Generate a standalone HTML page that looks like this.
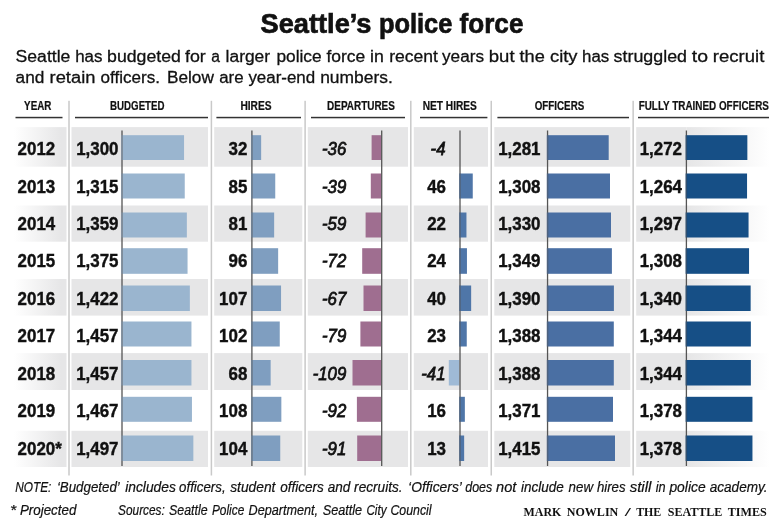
<!DOCTYPE html>
<html><head><meta charset="utf-8"><title>Seattle's police force</title>
<style>
html,body{margin:0;padding:0;background:#fff;}
body{width:780px;height:520px;overflow:hidden;font-family:"Liberation Sans",sans-serif;}
svg{display:block;will-change:transform;}
text{font-family:"Liberation Sans",sans-serif;fill:#111;}
.num{font-weight:bold;font-size:18px;stroke:#111;stroke-width:0.4px;}
.neg{font-style:italic;font-size:17.7px;stroke:#111;stroke-width:0.75px;}
.hd{font-weight:bold;font-size:12px;stroke:#111;stroke-width:0.2px;}
.note{font-style:italic;font-size:13.9px;stroke:#111;stroke-width:0.2px;}
.credit{font-family:"Liberation Serif",serif;font-weight:bold;font-size:11.6px;}
</style></head><body>
<svg width="780" height="520" viewBox="0 0 780 520">
<defs>
<linearGradient id="gl" x1="0" x2="1" y1="0" y2="0"><stop offset="0" stop-color="#fff"/><stop offset="0.9" stop-color="#e6e6e7"/><stop offset="1" stop-color="#e6e6e7"/></linearGradient>
<linearGradient id="gr" x1="0" x2="1" y1="0" y2="0"><stop offset="0" stop-color="#e6e6e7"/><stop offset="0.02" stop-color="#e6e6e7"/><stop offset="1" stop-color="#fff"/></linearGradient>
<linearGradient id="gs" x1="0" x2="0" y1="0" y2="1"><stop offset="0" stop-color="#fff"/><stop offset="0.04" stop-color="#c9c9c9"/><stop offset="1" stop-color="#c9c9c9"/></linearGradient>
</defs>
<rect width="780" height="520" fill="#fff"/>

<text x="260.6" y="33" font-size="27" font-weight="bold" stroke="#111" stroke-width="0.7" textLength="110.9" lengthAdjust="spacingAndGlyphs">Seattle’s</text>
<text x="378.9" y="33" font-size="27" font-weight="bold" stroke="#111" stroke-width="0.7" textLength="73.5" lengthAdjust="spacingAndGlyphs">police</text>
<text x="459.6" y="33" font-size="27" font-weight="bold" stroke="#111" stroke-width="0.7" textLength="63.8" lengthAdjust="spacingAndGlyphs">force</text>
<text x="15.6" y="62.3" font-size="17.3" stroke="#111" stroke-width="0.3" textLength="54.8" lengthAdjust="spacingAndGlyphs">Seattle</text>
<text x="75.2" y="62.3" font-size="17.3" stroke="#111" stroke-width="0.3" textLength="27.3" lengthAdjust="spacingAndGlyphs">has</text>
<text x="107.1" y="62.3" font-size="17.3" stroke="#111" stroke-width="0.3" textLength="73.8" lengthAdjust="spacingAndGlyphs">budgeted</text>
<text x="185.0" y="62.3" font-size="17.3" stroke="#111" stroke-width="0.3" textLength="20.8" lengthAdjust="spacingAndGlyphs">for</text>
<text x="211.2" y="62.3" font-size="17.3" stroke="#111" stroke-width="0.3" textLength="8.7" lengthAdjust="spacingAndGlyphs">a</text>
<text x="225.6" y="62.3" font-size="17.3" stroke="#111" stroke-width="0.3" textLength="44.5" lengthAdjust="spacingAndGlyphs">larger</text>
<text x="276.4" y="62.3" font-size="17.3" stroke="#111" stroke-width="0.3" textLength="45.2" lengthAdjust="spacingAndGlyphs">police</text>
<text x="326.4" y="62.3" font-size="17.3" stroke="#111" stroke-width="0.3" textLength="38.8" lengthAdjust="spacingAndGlyphs">force</text>
<text x="370.0" y="62.3" font-size="17.3" stroke="#111" stroke-width="0.3" textLength="13.8" lengthAdjust="spacingAndGlyphs">in</text>
<text x="389.2" y="62.3" font-size="17.3" stroke="#111" stroke-width="0.3" textLength="48.8" lengthAdjust="spacingAndGlyphs">recent</text>
<text x="442.0" y="62.3" font-size="17.3" stroke="#111" stroke-width="0.3" textLength="42.0" lengthAdjust="spacingAndGlyphs">years</text>
<text x="488.8" y="62.3" font-size="17.3" stroke="#111" stroke-width="0.3" textLength="25.8" lengthAdjust="spacingAndGlyphs">but</text>
<text x="519.5" y="62.3" font-size="17.3" stroke="#111" stroke-width="0.3" textLength="25.3" lengthAdjust="spacingAndGlyphs">the</text>
<text x="550.0" y="62.3" font-size="17.3" stroke="#111" stroke-width="0.3" textLength="27.5" lengthAdjust="spacingAndGlyphs">city</text>
<text x="582.0" y="62.3" font-size="17.3" stroke="#111" stroke-width="0.3" textLength="27.2" lengthAdjust="spacingAndGlyphs">has</text>
<text x="613.6" y="62.3" font-size="17.3" stroke="#111" stroke-width="0.3" textLength="73.4" lengthAdjust="spacingAndGlyphs">struggled</text>
<text x="691.8" y="62.3" font-size="17.3" stroke="#111" stroke-width="0.3" textLength="16.2" lengthAdjust="spacingAndGlyphs">to</text>
<text x="712.8" y="62.3" font-size="17.3" stroke="#111" stroke-width="0.3" textLength="51.5" lengthAdjust="spacingAndGlyphs">recruit</text>
<text x="15.6" y="82.6" font-size="17.3" stroke="#111" stroke-width="0.3" textLength="28.8" lengthAdjust="spacingAndGlyphs">and</text>
<text x="49.6" y="82.6" font-size="17.3" stroke="#111" stroke-width="0.3" textLength="45.8" lengthAdjust="spacingAndGlyphs">retain</text>
<text x="100.6" y="82.6" font-size="17.3" stroke="#111" stroke-width="0.3" textLength="59.4" lengthAdjust="spacingAndGlyphs">officers.</text>
<text x="166.9" y="82.6" font-size="17.3" stroke="#111" stroke-width="0.3" textLength="47.0" lengthAdjust="spacingAndGlyphs">Below</text>
<text x="219.2" y="82.6" font-size="17.3" stroke="#111" stroke-width="0.3" textLength="24.4" lengthAdjust="spacingAndGlyphs">are</text>
<text x="248.4" y="82.6" font-size="17.3" stroke="#111" stroke-width="0.3" textLength="66.8" lengthAdjust="spacingAndGlyphs">year-end</text>
<text x="320.2" y="82.6" font-size="17.3" stroke="#111" stroke-width="0.3" textLength="72.6" lengthAdjust="spacingAndGlyphs">numbers.</text>
<rect x="14" y="127.1" width="52.5" height="39.6" fill="url(#gl)"/>
<rect x="71.5" y="127.1" width="136.5" height="39.6" fill="#e6e6e7"/>
<rect x="214.2" y="127.1" width="88.1" height="39.6" fill="#e6e6e7"/>
<rect x="307.8" y="127.1" width="100.2" height="39.6" fill="#e6e6e7"/>
<rect x="413.8" y="127.1" width="74.2" height="39.6" fill="#e6e6e7"/>
<rect x="494.3" y="127.1" width="136.0" height="39.6" fill="#e6e6e7"/>
<rect x="636.2" y="127.1" width="50.2" height="39.6" fill="#e6e6e7"/>
<rect x="686.4" y="127.1" width="83.6" height="39.6" fill="url(#gr)"/>
<rect x="14" y="205.5" width="52.5" height="36.2" fill="url(#gl)"/>
<rect x="71.5" y="205.5" width="136.5" height="36.2" fill="#e6e6e7"/>
<rect x="214.2" y="205.5" width="88.1" height="36.2" fill="#e6e6e7"/>
<rect x="307.8" y="205.5" width="100.2" height="36.2" fill="#e6e6e7"/>
<rect x="413.8" y="205.5" width="74.2" height="36.2" fill="#e6e6e7"/>
<rect x="494.3" y="205.5" width="136.0" height="36.2" fill="#e6e6e7"/>
<rect x="636.2" y="205.5" width="50.2" height="36.2" fill="#e6e6e7"/>
<rect x="686.4" y="205.5" width="83.6" height="36.2" fill="url(#gr)"/>
<rect x="14" y="279" width="52.5" height="36.6" fill="url(#gl)"/>
<rect x="71.5" y="279" width="136.5" height="36.6" fill="#e6e6e7"/>
<rect x="214.2" y="279" width="88.1" height="36.6" fill="#e6e6e7"/>
<rect x="307.8" y="279" width="100.2" height="36.6" fill="#e6e6e7"/>
<rect x="413.8" y="279" width="74.2" height="36.6" fill="#e6e6e7"/>
<rect x="494.3" y="279" width="136.0" height="36.6" fill="#e6e6e7"/>
<rect x="636.2" y="279" width="50.2" height="36.6" fill="#e6e6e7"/>
<rect x="686.4" y="279" width="83.6" height="36.6" fill="url(#gr)"/>
<rect x="14" y="353.1" width="52.5" height="36.9" fill="url(#gl)"/>
<rect x="71.5" y="353.1" width="136.5" height="36.9" fill="#e6e6e7"/>
<rect x="214.2" y="353.1" width="88.1" height="36.9" fill="#e6e6e7"/>
<rect x="307.8" y="353.1" width="100.2" height="36.9" fill="#e6e6e7"/>
<rect x="413.8" y="353.1" width="74.2" height="36.9" fill="#e6e6e7"/>
<rect x="494.3" y="353.1" width="136.0" height="36.9" fill="#e6e6e7"/>
<rect x="636.2" y="353.1" width="50.2" height="36.9" fill="#e6e6e7"/>
<rect x="686.4" y="353.1" width="83.6" height="36.9" fill="url(#gr)"/>
<rect x="14" y="430.8" width="52.5" height="36.2" fill="url(#gl)"/>
<rect x="71.5" y="430.8" width="136.5" height="36.2" fill="#e6e6e7"/>
<rect x="214.2" y="430.8" width="88.1" height="36.2" fill="#e6e6e7"/>
<rect x="307.8" y="430.8" width="100.2" height="36.2" fill="#e6e6e7"/>
<rect x="413.8" y="430.8" width="74.2" height="36.2" fill="#e6e6e7"/>
<rect x="494.3" y="430.8" width="136.0" height="36.2" fill="#e6e6e7"/>
<rect x="636.2" y="430.8" width="50.2" height="36.2" fill="#e6e6e7"/>
<rect x="686.4" y="430.8" width="83.6" height="36.2" fill="url(#gr)"/>
<rect x="68.25" y="100.8" width="1.5" height="374.7" fill="#c9c9c9"/>
<rect x="210.65" y="100.8" width="1.5" height="374.7" fill="#c9c9c9"/>
<rect x="304.35" y="100.8" width="1.5" height="374.7" fill="#c9c9c9"/>
<rect x="410.05" y="100.8" width="1.5" height="374.7" fill="#c9c9c9"/>
<rect x="490.50" y="100.8" width="1.5" height="374.7" fill="#c9c9c9"/>
<rect x="632.40" y="100.8" width="1.5" height="374.7" fill="#c9c9c9"/>
<rect x="15.5" y="116.8" width="47.0" height="1.5" fill="#333"/>
<rect x="75" y="116.8" width="133.0" height="1.5" fill="#333"/>
<rect x="216.4" y="116.8" width="84.6" height="1.5" fill="#333"/>
<rect x="311" y="116.8" width="94.0" height="1.5" fill="#333"/>
<rect x="420" y="116.8" width="67.4" height="1.5" fill="#333"/>
<rect x="497.4" y="116.8" width="131.6" height="1.5" fill="#333"/>
<rect x="638" y="116.8" width="131.0" height="1.5" fill="#333"/>
<text class="hd" x="24.1" y="109.7" textLength="27.3" lengthAdjust="spacingAndGlyphs">YEAR</text>
<text class="hd" x="110.1" y="109.7" textLength="54.4" lengthAdjust="spacingAndGlyphs">BUDGETED</text>
<text class="hd" x="240.4" y="109.7" textLength="31.2" lengthAdjust="spacingAndGlyphs">HIRES</text>
<text class="hd" x="327.1" y="109.7" textLength="67.8" lengthAdjust="spacingAndGlyphs">DEPARTURES</text>
<text class="hd" x="422.7" y="109.7" textLength="54.2" lengthAdjust="spacingAndGlyphs">NET HIRES</text>
<text class="hd" x="534.7" y="109.7" textLength="49.6" lengthAdjust="spacingAndGlyphs">OFFICERS</text>
<text class="hd" x="638.7" y="109.7" textLength="130.2" lengthAdjust="spacingAndGlyphs">FULLY TRAINED OFFICERS</text>
<text class="num" transform="translate(17.6,154.8) scale(0.94,1)">2012</text>
<rect x="121.35" y="135.2" width="62.7" height="24.8" fill="#9ab5cf"/>
<text class="num" transform="translate(118.5,154.8) scale(0.94,1)" text-anchor="end">1,300</text>
<rect x="251.25" y="135.2" width="9.9" height="24.8" fill="#7f9ec0"/>
<text class="num" transform="translate(247.3,154.8) scale(0.94,1)" text-anchor="end">32</text>
<rect x="371.6" y="135.2" width="9.4" height="24.8" fill="#9f6e90"/>
<text class="neg" transform="translate(346.3,154.8) scale(0.95,1)" text-anchor="end">-36</text>
<text class="neg" transform="translate(445.5,154.8) scale(0.95,1)" text-anchor="end">-4</text>
<rect x="546.9" y="135.2" width="61.8" height="24.8" fill="#4a6fa3"/>
<text class="num" transform="translate(540.5,154.8) scale(0.94,1)" text-anchor="end">1,281</text>
<rect x="685.75" y="135.2" width="61.6" height="24.8" fill="#164f86"/>
<text class="num" transform="translate(682,154.8) scale(0.94,1)" text-anchor="end">1,272</text>
<text class="num" transform="translate(17.6,192.5) scale(0.94,1)">2013</text>
<rect x="121.35" y="173.5" width="63.4" height="25.0" fill="#9ab5cf"/>
<text class="num" transform="translate(118.5,192.5) scale(0.94,1)" text-anchor="end">1,315</text>
<rect x="251.25" y="173.5" width="24.0" height="25.0" fill="#7f9ec0"/>
<text class="num" transform="translate(247.3,192.5) scale(0.94,1)" text-anchor="end">85</text>
<rect x="370.8" y="173.5" width="10.2" height="25.0" fill="#9f6e90"/>
<text class="neg" transform="translate(346.3,192.5) scale(0.95,1)" text-anchor="end">-39</text>
<rect x="459.35" y="173.5" width="13.4" height="25.0" fill="#4f76a8"/>
<text class="num" transform="translate(446,192.5) scale(0.94,1)" text-anchor="end">46</text>
<rect x="546.9" y="173.5" width="63.1" height="25.0" fill="#4a6fa3"/>
<text class="num" transform="translate(540.5,192.5) scale(0.94,1)" text-anchor="end">1,308</text>
<rect x="685.75" y="173.5" width="61.3" height="25.0" fill="#164f86"/>
<text class="num" transform="translate(682,192.5) scale(0.94,1)" text-anchor="end">1,264</text>
<text class="num" transform="translate(17.6,229.8) scale(0.94,1)">2014</text>
<rect x="121.35" y="212.5" width="65.5" height="25.0" fill="#9ab5cf"/>
<text class="num" transform="translate(118.5,229.8) scale(0.94,1)" text-anchor="end">1,359</text>
<rect x="251.25" y="212.5" width="22.9" height="25.0" fill="#7f9ec0"/>
<text class="num" transform="translate(247.3,229.8) scale(0.94,1)" text-anchor="end">81</text>
<rect x="365.6" y="212.5" width="15.5" height="25.0" fill="#9f6e90"/>
<text class="neg" transform="translate(346.3,229.8) scale(0.95,1)" text-anchor="end">-59</text>
<rect x="459.35" y="212.5" width="7.1" height="25.0" fill="#4f76a8"/>
<text class="num" transform="translate(446,229.8) scale(0.94,1)" text-anchor="end">22</text>
<rect x="546.9" y="212.5" width="64.1" height="25.0" fill="#4a6fa3"/>
<text class="num" transform="translate(540.5,229.8) scale(0.94,1)" text-anchor="end">1,330</text>
<rect x="685.75" y="212.5" width="62.8" height="25.0" fill="#164f86"/>
<text class="num" transform="translate(682,229.8) scale(0.94,1)" text-anchor="end">1,297</text>
<text class="num" transform="translate(17.6,267.2) scale(0.94,1)">2015</text>
<rect x="121.35" y="248.2" width="66.2" height="25.6" fill="#9ab5cf"/>
<text class="num" transform="translate(118.5,267.2) scale(0.94,1)" text-anchor="end">1,375</text>
<rect x="251.25" y="248.2" width="26.9" height="25.6" fill="#7f9ec0"/>
<text class="num" transform="translate(247.3,267.2) scale(0.94,1)" text-anchor="end">96</text>
<rect x="362.2" y="248.2" width="18.9" height="25.6" fill="#9f6e90"/>
<text class="neg" transform="translate(346.3,267.2) scale(0.95,1)" text-anchor="end">-72</text>
<rect x="459.35" y="248.2" width="7.6" height="25.6" fill="#4f76a8"/>
<text class="num" transform="translate(446,267.2) scale(0.94,1)" text-anchor="end">24</text>
<rect x="546.9" y="248.2" width="65.0" height="25.6" fill="#4a6fa3"/>
<text class="num" transform="translate(540.5,267.2) scale(0.94,1)" text-anchor="end">1,349</text>
<rect x="685.75" y="248.2" width="63.3" height="25.6" fill="#164f86"/>
<text class="num" transform="translate(682,267.2) scale(0.94,1)" text-anchor="end">1,308</text>
<text class="num" transform="translate(17.6,305) scale(0.94,1)">2016</text>
<rect x="121.35" y="285.5" width="68.5" height="25.5" fill="#9ab5cf"/>
<text class="num" transform="translate(118.5,305) scale(0.94,1)" text-anchor="end">1,422</text>
<rect x="251.25" y="285.5" width="29.8" height="25.5" fill="#7f9ec0"/>
<text class="num" transform="translate(247.3,305) scale(0.94,1)" text-anchor="end">107</text>
<rect x="363.5" y="285.5" width="17.6" height="25.5" fill="#9f6e90"/>
<text class="neg" transform="translate(346.3,305) scale(0.95,1)" text-anchor="end">-67</text>
<rect x="459.35" y="285.5" width="11.8" height="25.5" fill="#4f76a8"/>
<text class="num" transform="translate(446,305) scale(0.94,1)" text-anchor="end">40</text>
<rect x="546.9" y="285.5" width="67.0" height="25.5" fill="#4a6fa3"/>
<text class="num" transform="translate(540.5,305) scale(0.94,1)" text-anchor="end">1,390</text>
<rect x="685.75" y="285.5" width="64.9" height="25.5" fill="#164f86"/>
<text class="num" transform="translate(682,305) scale(0.94,1)" text-anchor="end">1,340</text>
<text class="num" transform="translate(17.6,342) scale(0.94,1)">2017</text>
<rect x="121.35" y="321.5" width="70.1" height="25.0" fill="#9ab5cf"/>
<text class="num" transform="translate(118.5,342) scale(0.94,1)" text-anchor="end">1,457</text>
<rect x="251.25" y="321.5" width="28.5" height="25.0" fill="#7f9ec0"/>
<text class="num" transform="translate(247.3,342) scale(0.94,1)" text-anchor="end">102</text>
<rect x="360.4" y="321.5" width="20.7" height="25.0" fill="#9f6e90"/>
<text class="neg" transform="translate(346.3,342) scale(0.95,1)" text-anchor="end">-79</text>
<rect x="459.35" y="321.5" width="7.4" height="25.0" fill="#4f76a8"/>
<text class="num" transform="translate(446,342) scale(0.94,1)" text-anchor="end">23</text>
<rect x="546.9" y="321.5" width="66.9" height="25.0" fill="#4a6fa3"/>
<text class="num" transform="translate(540.5,342) scale(0.94,1)" text-anchor="end">1,388</text>
<rect x="685.75" y="321.5" width="65.1" height="25.0" fill="#164f86"/>
<text class="num" transform="translate(682,342) scale(0.94,1)" text-anchor="end">1,344</text>
<text class="num" transform="translate(17.6,379.8) scale(0.94,1)">2018</text>
<rect x="121.35" y="360" width="70.1" height="25.5" fill="#9ab5cf"/>
<text class="num" transform="translate(118.5,379.8) scale(0.94,1)" text-anchor="end">1,457</text>
<rect x="251.25" y="360" width="19.4" height="25.5" fill="#7f9ec0"/>
<text class="num" transform="translate(247.3,379.8) scale(0.94,1)" text-anchor="end">68</text>
<rect x="352.5" y="360" width="28.6" height="25.5" fill="#9f6e90"/>
<text class="neg" transform="translate(346.3,379.8) scale(0.95,1)" text-anchor="end">-109</text>
<rect x="448.8" y="360" width="10.6" height="25.5" fill="#9fbad6"/>
<text class="neg" transform="translate(445.5,379.8) scale(0.95,1)" text-anchor="end">-41</text>
<rect x="546.9" y="360" width="66.9" height="25.5" fill="#4a6fa3"/>
<text class="num" transform="translate(540.5,379.8) scale(0.94,1)" text-anchor="end">1,388</text>
<rect x="685.75" y="360" width="65.1" height="25.5" fill="#164f86"/>
<text class="num" transform="translate(682,379.8) scale(0.94,1)" text-anchor="end">1,344</text>
<text class="num" transform="translate(17.6,417) scale(0.94,1)">2019</text>
<rect x="121.35" y="396.8" width="70.6" height="25.0" fill="#9ab5cf"/>
<text class="num" transform="translate(118.5,417) scale(0.94,1)" text-anchor="end">1,467</text>
<rect x="251.25" y="396.8" width="30.1" height="25.0" fill="#7f9ec0"/>
<text class="num" transform="translate(247.3,417) scale(0.94,1)" text-anchor="end">108</text>
<rect x="356.9" y="396.8" width="24.1" height="25.0" fill="#9f6e90"/>
<text class="neg" transform="translate(346.3,417) scale(0.95,1)" text-anchor="end">-92</text>
<rect x="459.35" y="396.8" width="5.5" height="25.0" fill="#4f76a8"/>
<text class="num" transform="translate(446,417) scale(0.94,1)" text-anchor="end">16</text>
<rect x="546.9" y="396.8" width="66.1" height="25.0" fill="#4a6fa3"/>
<text class="num" transform="translate(540.5,417) scale(0.94,1)" text-anchor="end">1,371</text>
<rect x="685.75" y="396.8" width="66.7" height="25.0" fill="#164f86"/>
<text class="num" transform="translate(682,417) scale(0.94,1)" text-anchor="end">1,378</text>
<text class="num" transform="translate(17.6,455) scale(0.94,1)">2020*</text>
<rect x="121.35" y="435.5" width="72.0" height="25.5" fill="#9ab5cf"/>
<text class="num" transform="translate(118.5,455) scale(0.94,1)" text-anchor="end">1,497</text>
<rect x="251.25" y="435.5" width="29.0" height="25.5" fill="#7f9ec0"/>
<text class="num" transform="translate(247.3,455) scale(0.94,1)" text-anchor="end">104</text>
<rect x="357.2" y="435.5" width="23.8" height="25.5" fill="#9f6e90"/>
<text class="neg" transform="translate(346.3,455) scale(0.95,1)" text-anchor="end">-91</text>
<rect x="459.35" y="435.5" width="4.8" height="25.5" fill="#4f76a8"/>
<text class="num" transform="translate(446,455) scale(0.94,1)" text-anchor="end">13</text>
<rect x="546.9" y="435.5" width="68.1" height="25.5" fill="#4a6fa3"/>
<text class="num" transform="translate(540.5,455) scale(0.94,1)" text-anchor="end">1,415</text>
<rect x="685.75" y="435.5" width="66.7" height="25.5" fill="#164f86"/>
<text class="num" transform="translate(682,455) scale(0.94,1)" text-anchor="end">1,378</text>
<rect x="121.35" y="130.5" width="1.3" height="335.5" fill="#555"/>
<rect x="121.35" y="135.2" width="1.3" height="24.8" fill="#9ab5cf" opacity="0.55"/>
<rect x="121.35" y="173.5" width="1.3" height="25.0" fill="#9ab5cf" opacity="0.55"/>
<rect x="121.35" y="212.5" width="1.3" height="25.0" fill="#9ab5cf" opacity="0.55"/>
<rect x="121.35" y="248.2" width="1.3" height="25.6" fill="#9ab5cf" opacity="0.55"/>
<rect x="121.35" y="285.5" width="1.3" height="25.5" fill="#9ab5cf" opacity="0.55"/>
<rect x="121.35" y="321.5" width="1.3" height="25.0" fill="#9ab5cf" opacity="0.55"/>
<rect x="121.35" y="360" width="1.3" height="25.5" fill="#9ab5cf" opacity="0.55"/>
<rect x="121.35" y="396.8" width="1.3" height="25.0" fill="#9ab5cf" opacity="0.55"/>
<rect x="121.35" y="435.5" width="1.3" height="25.5" fill="#9ab5cf" opacity="0.55"/>
<rect x="251.25" y="130.5" width="1.3" height="335.5" fill="#555"/>
<rect x="251.25" y="135.2" width="1.3" height="24.8" fill="#7f9ec0" opacity="0.55"/>
<rect x="251.25" y="173.5" width="1.3" height="25.0" fill="#7f9ec0" opacity="0.55"/>
<rect x="251.25" y="212.5" width="1.3" height="25.0" fill="#7f9ec0" opacity="0.55"/>
<rect x="251.25" y="248.2" width="1.3" height="25.6" fill="#7f9ec0" opacity="0.55"/>
<rect x="251.25" y="285.5" width="1.3" height="25.5" fill="#7f9ec0" opacity="0.55"/>
<rect x="251.25" y="321.5" width="1.3" height="25.0" fill="#7f9ec0" opacity="0.55"/>
<rect x="251.25" y="360" width="1.3" height="25.5" fill="#7f9ec0" opacity="0.55"/>
<rect x="251.25" y="396.8" width="1.3" height="25.0" fill="#7f9ec0" opacity="0.55"/>
<rect x="251.25" y="435.5" width="1.3" height="25.5" fill="#7f9ec0" opacity="0.55"/>
<rect x="381.05" y="130.5" width="1.3" height="335.5" fill="#555"/>
<rect x="459.35" y="130.5" width="1.3" height="335.5" fill="#555"/>
<rect x="459.35" y="173.5" width="1.3" height="25.0" fill="#4f76a8" opacity="0.55"/>
<rect x="459.35" y="212.5" width="1.3" height="25.0" fill="#4f76a8" opacity="0.55"/>
<rect x="459.35" y="248.2" width="1.3" height="25.6" fill="#4f76a8" opacity="0.55"/>
<rect x="459.35" y="285.5" width="1.3" height="25.5" fill="#4f76a8" opacity="0.55"/>
<rect x="459.35" y="321.5" width="1.3" height="25.0" fill="#4f76a8" opacity="0.55"/>
<rect x="459.35" y="396.8" width="1.3" height="25.0" fill="#4f76a8" opacity="0.55"/>
<rect x="459.35" y="435.5" width="1.3" height="25.5" fill="#4f76a8" opacity="0.55"/>
<rect x="546.9" y="130.5" width="1.3" height="335.5" fill="#555"/>
<rect x="546.9" y="135.2" width="1.3" height="24.8" fill="#4a6fa3" opacity="0.55"/>
<rect x="546.9" y="173.5" width="1.3" height="25.0" fill="#4a6fa3" opacity="0.55"/>
<rect x="546.9" y="212.5" width="1.3" height="25.0" fill="#4a6fa3" opacity="0.55"/>
<rect x="546.9" y="248.2" width="1.3" height="25.6" fill="#4a6fa3" opacity="0.55"/>
<rect x="546.9" y="285.5" width="1.3" height="25.5" fill="#4a6fa3" opacity="0.55"/>
<rect x="546.9" y="321.5" width="1.3" height="25.0" fill="#4a6fa3" opacity="0.55"/>
<rect x="546.9" y="360" width="1.3" height="25.5" fill="#4a6fa3" opacity="0.55"/>
<rect x="546.9" y="396.8" width="1.3" height="25.0" fill="#4a6fa3" opacity="0.55"/>
<rect x="546.9" y="435.5" width="1.3" height="25.5" fill="#4a6fa3" opacity="0.55"/>
<rect x="685.75" y="130.5" width="1.3" height="335.5" fill="#555"/>
<rect x="685.75" y="135.2" width="1.3" height="24.8" fill="#164f86" opacity="0.55"/>
<rect x="685.75" y="173.5" width="1.3" height="25.0" fill="#164f86" opacity="0.55"/>
<rect x="685.75" y="212.5" width="1.3" height="25.0" fill="#164f86" opacity="0.55"/>
<rect x="685.75" y="248.2" width="1.3" height="25.6" fill="#164f86" opacity="0.55"/>
<rect x="685.75" y="285.5" width="1.3" height="25.5" fill="#164f86" opacity="0.55"/>
<rect x="685.75" y="321.5" width="1.3" height="25.0" fill="#164f86" opacity="0.55"/>
<rect x="685.75" y="360" width="1.3" height="25.5" fill="#164f86" opacity="0.55"/>
<rect x="685.75" y="396.8" width="1.3" height="25.0" fill="#164f86" opacity="0.55"/>
<rect x="685.75" y="435.5" width="1.3" height="25.5" fill="#164f86" opacity="0.55"/>
<text x="15.2" y="491.8" class="note" textLength="36.2" lengthAdjust="spacingAndGlyphs">NOTE:</text>
<text x="56.9" y="491.8" class="note" textLength="62.9" lengthAdjust="spacingAndGlyphs">‘Budgeted’</text>
<text x="125.2" y="491.8" class="note" textLength="50.7" lengthAdjust="spacingAndGlyphs">includes</text>
<text x="179.1" y="491.8" class="note" textLength="46.5" lengthAdjust="spacingAndGlyphs">officers,</text>
<text x="230.2" y="491.8" class="note" textLength="45.2" lengthAdjust="spacingAndGlyphs">student</text>
<text x="280.2" y="491.8" class="note" textLength="43.7" lengthAdjust="spacingAndGlyphs">officers</text>
<text x="327.7" y="491.8" class="note" textLength="22.6" lengthAdjust="spacingAndGlyphs">and</text>
<text x="354.1" y="491.8" class="note" textLength="48.5" lengthAdjust="spacingAndGlyphs">recruits.</text>
<text x="408.1" y="491.8" class="note" textLength="53.8" lengthAdjust="spacingAndGlyphs">‘Officers’</text>
<text x="465.2" y="491.8" class="note" textLength="27.1" lengthAdjust="spacingAndGlyphs">does</text>
<text x="496.1" y="491.8" class="note" textLength="20.3" lengthAdjust="spacingAndGlyphs">not</text>
<text x="521.1" y="491.8" class="note" textLength="42.8" lengthAdjust="spacingAndGlyphs">include</text>
<text x="568.6" y="491.8" class="note" textLength="24.5" lengthAdjust="spacingAndGlyphs">new</text>
<text x="596.9" y="491.8" class="note" textLength="28.7" lengthAdjust="spacingAndGlyphs">hires</text>
<text x="629.7" y="491.8" class="note" textLength="21.7" lengthAdjust="spacingAndGlyphs">still</text>
<text x="655.7" y="491.8" class="note" textLength="9.9" lengthAdjust="spacingAndGlyphs">in</text>
<text x="669.4" y="491.8" class="note" textLength="36.2" lengthAdjust="spacingAndGlyphs">police</text>
<text x="709.7" y="491.8" class="note" textLength="57.9" lengthAdjust="spacingAndGlyphs">academy.</text>
<text x="9.9" y="515.2" class="note" textLength="6.2" lengthAdjust="spacingAndGlyphs">*</text>
<text x="19.9" y="515.2" class="note" textLength="56.5" lengthAdjust="spacingAndGlyphs">Projected</text>
<text x="118.1" y="515.4" class="note" textLength="46.7" lengthAdjust="spacingAndGlyphs">Sources:</text>
<text x="169.1" y="515.4" class="note" textLength="38.5" lengthAdjust="spacingAndGlyphs">Seattle</text>
<text x="211.9" y="515.4" class="note" textLength="32.4" lengthAdjust="spacingAndGlyphs">Police</text>
<text x="248.6" y="515.4" class="note" textLength="69.5" lengthAdjust="spacingAndGlyphs">Department,</text>
<text x="322.7" y="515.4" class="note" textLength="39.4" lengthAdjust="spacingAndGlyphs">Seattle</text>
<text x="366.4" y="515.4" class="note" textLength="20.2" lengthAdjust="spacingAndGlyphs">City</text>
<text x="390.4" y="515.4" class="note" textLength="41.2" lengthAdjust="spacingAndGlyphs">Council</text>
<text x="523.5" y="516.3" class="credit" textLength="37.8" lengthAdjust="spacingAndGlyphs">MARK</text>
<text x="566.7" y="516.3" class="credit" textLength="51.6" lengthAdjust="spacingAndGlyphs">NOWLIN</text>
<text x="624.7" y="516.3" class="credit" textLength="6.1" lengthAdjust="spacingAndGlyphs">/</text>
<text x="636.2" y="516.3" class="credit" textLength="25.1" lengthAdjust="spacingAndGlyphs">THE</text>
<text x="667.7" y="516.3" class="credit" textLength="54.6" lengthAdjust="spacingAndGlyphs">SEATTLE</text>
<text x="727.7" y="516.3" class="credit" textLength="39.1" lengthAdjust="spacingAndGlyphs">TIMES</text>
</svg></body></html>
